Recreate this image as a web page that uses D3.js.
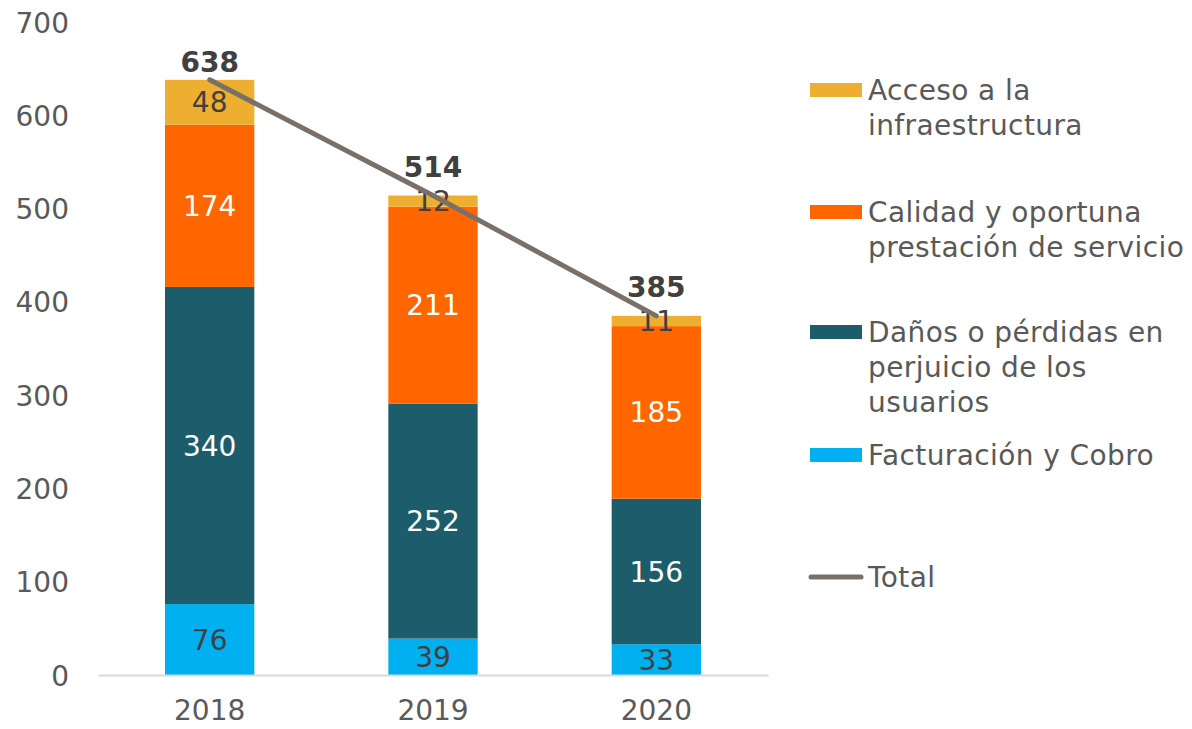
<!DOCTYPE html>
<html>
<head>
<meta charset="utf-8">
<script src="https://cdn.jsdelivr.net/npm/d3@7"></script>
<style>
  body { margin: 0; background: #fff; }
  svg text { font-family: Verdana, "DejaVu Sans", sans-serif; }
</style>
</head>
<body>
<div id="chart"></div>
<script>
var years = ["2018", "2019", "2020"];
var facturacion = [76, 39, 33];
var danos = [340, 252, 156];
var calidad = [174, 211, 185];
var acceso = [48, 12, 11];
var totals = [638, 514, 385];
var yTicks = [0, 100, 200, 300, 400, 500, 600, 700];

// stacked from bottom to top
var seriesNames = ["Facturación y Cobro", "Daños o pérdidas en perjuicio de los usuarios",
  "Calidad y oportuna prestación de servicio", "Acceso a la infraestructura"];
var seriesValues = [facturacion, danos, calidad, acceso];
var seriesColors = ["#00B0F0", "#1D5D6B", "#FF6600", "#EEAF30"];
var labelColors = ["#404040", "#ffffff", "#ffffff", "#404040"];

var width = 1192;
var height = 729;
var fontSize = "28px";

var svg = d3.select("#chart").append("svg")
  .attr("width", width)
  .attr("height", height);

var x = d3.scaleBand()
  .domain(years)
  .range([98, 768])
  .paddingInner(0.6)
  .paddingOuter(0.3);

var y = d3.scaleLinear()
  .domain([0, 700])
  .range([675, 22]);

// build table for d3.stack
var table = years.map(function(yr, i) {
  var row = {year: yr};
  seriesNames.forEach(function(n, k) { row[n] = seriesValues[k][i]; });
  return row;
});
var stacked = d3.stack().keys(seriesNames)(table);

// y axis labels
var yAxis = d3.axisLeft(y).tickValues(yTicks).tickSize(0).tickPadding(0);
var yg = svg.append("g")
  .attr("transform", "translate(69,0)")
  .call(yAxis);
yg.select(".domain").remove();
yg.selectAll("text")
  .attr("fill", "#595959")
  .style("font-size", fontSize)
  .attr("dy", "0.36em");

// bars
var layers = svg.append("g").selectAll("g")
  .data(stacked).enter()
  .append("g")
  .attr("fill", (d, i) => seriesColors[i]);

layers.selectAll("rect")
  .data(d => d).enter()
  .append("rect")
  .attr("x", d => x(d.data.year))
  .attr("width", x.bandwidth())
  .attr("y", d => y(d[1]))
  .attr("height", d => y(d[0]) - y(d[1]));

// segment labels
stacked.forEach(function(layer, k) {
  svg.append("g").selectAll("text")
    .data(layer).enter()
    .append("text")
    .attr("x", d => x(d.data.year) + x.bandwidth() / 2)
    .attr("y", d => y((d[0] + d[1]) / 2))
    .attr("dy", "0.36em")
    .attr("text-anchor", "middle")
    .attr("fill", labelColors[k])
    .style("font-size", fontSize)
    .text(d => d[1] - d[0]);
});

// x axis
var xAxis = d3.axisBottom(x).tickSize(0).tickPadding(25);
var xg = svg.append("g")
  .attr("transform", "translate(0,675)")
  .call(xAxis);
xg.select(".domain").attr("stroke", "#D9D9D9").attr("stroke-width", 2);
xg.selectAll("text")
  .attr("fill", "#595959")
  .style("font-size", fontSize)
  .attr("dy", "0.71em");

// total line
var line = d3.line()
  .x((d, i) => x(years[i]) + x.bandwidth() / 2)
  .y(d => y(d));

svg.append("path")
  .datum(totals)
  .attr("d", line)
  .attr("fill", "none")
  .attr("stroke", "#7A7068")
  .attr("stroke-width", 5)
  .attr("stroke-linecap", "round");

// total labels sit above the point, kept inside the plot area
svg.append("g").selectAll("text")
  .data(totals).enter()
  .append("text")
  .attr("x", (d, i) => x(years[i]) + x.bandwidth() / 2)
  .attr("y", d => Math.max(y(d) - 19, 72))
  .attr("text-anchor", "middle")
  .attr("fill", "#404040")
  .style("font-size", fontSize)
  .style("font-weight", "bold")
  .text(d => d);

// legend
var legendItems = [
  {lines: ["Acceso a la", "infraestructura"], color: "#EEAF30", y: 90},
  {lines: ["Calidad y oportuna", "prestación de servicio"], color: "#FF6600", y: 212},
  {lines: ["Daños o pérdidas en", "perjuicio de los", "usuarios"], color: "#1D5D6B", y: 332},
  {lines: ["Facturación y Cobro"], color: "#00B0F0", y: 455}
];

var legend = svg.append("g");
legendItems.forEach(function(item) {
  legend.append("rect")
    .attr("x", 810)
    .attr("y", item.y - 7)
    .attr("width", 52)
    .attr("height", 14)
    .attr("fill", item.color);
  var t = legend.append("text")
    .attr("x", 868)
    .attr("y", item.y)
    .attr("fill", "#595959")
    .style("font-size", fontSize)
    .style("letter-spacing", "0.4px");
  item.lines.forEach(function(l, j) {
    t.append("tspan")
      .attr("x", 868)
      .attr("y", item.y + j * 35)
      .attr("dy", "0.36em")
      .text(l);
  });
});

legend.append("line")
  .attr("x1", 811).attr("x2", 861)
  .attr("y1", 577).attr("y2", 577)
  .attr("stroke", "#7A7068")
  .attr("stroke-width", 5)
  .attr("stroke-linecap", "round");
legend.append("text")
  .attr("x", 868)
  .attr("y", 577)
  .attr("dy", "0.36em")
  .attr("fill", "#595959")
  .style("font-size", fontSize)
  .style("letter-spacing", "0.4px")
  .text("Total");
</script>
</body>
</html>
